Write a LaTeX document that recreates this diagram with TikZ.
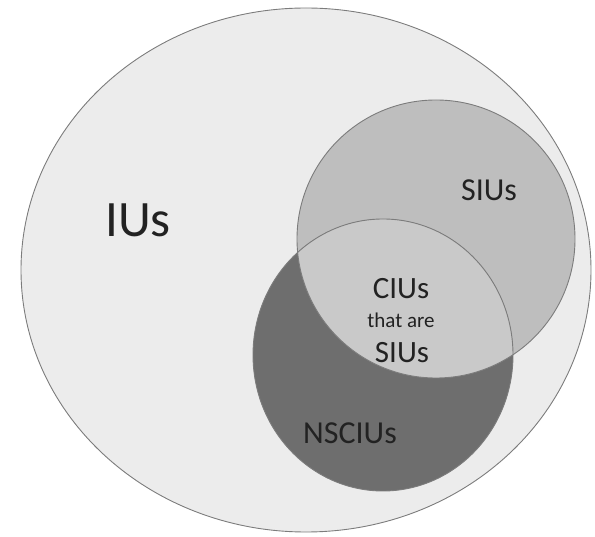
\documentclass[tikz,border=0pt]{standalone}
\usepackage{fontspec}
\setmainfont{Carlito}
\usepackage{xcolor}
\usepackage{tikz}
\usetikzlibrary{positioning}
\definecolor{setline}{HTML}{7C7C7C}
\definecolor{iufill}{HTML}{ECECEC}
\definecolor{siufill}{HTML}{BEBEBE}
\definecolor{ciufill}{HTML}{6E6E6E}
\definecolor{bothfill}{HTML}{C9C9C9}
\definecolor{labeltext}{HTML}{222222}
\tikzstyle{setedge} = [draw=setline, line width=0.9pt]
\tikzstyle{setlabel} = [text=labeltext, inner sep=0pt, anchor=center]

\begin{document}
\begin{tikzpicture}[x=1pt,y=-1pt]
    \useasboundingbox (0,0) rectangle (595,537);
    % Place sets
    \path[fill=iufill, setedge] (306,270) ellipse [x radius=285, y radius=262];
    \path[fill=siufill] (436,239) ellipse [x radius=139, y radius=139];
    \path[fill=ciufill] (383,355) ellipse [x radius=130, y radius=136];
    \begin{scope}
        \path[clip] (436,239) ellipse [x radius=139, y radius=139];
        \path[fill=bothfill] (383,355) ellipse [x radius=130, y radius=136];
    \end{scope}
    \path[setedge] (436,239) ellipse [x radius=139, y radius=139];
    \path[setedge] (383,355) ellipse [x radius=130, y radius=136];
    % Place labels
    \node[setlabel, font=\fontsize{51}{51}\selectfont] (ius) at (138,220) {IUs};
    \node[setlabel, font=\fontsize{32}{32}\selectfont] (sius) at (489,190) {SIUs};
    \node[setlabel, font=\fontsize{31}{31}\selectfont] (cius) at (401,289) {CIUs};
    \node[setlabel, font=\fontsize{21}{21}\selectfont, below=13pt of cius] (thatare) {that are};
    \node[setlabel, font=\fontsize{31}{31}\selectfont] (both) at (402,353) {SIUs};
    \node[setlabel, font=\fontsize{32}{32}\selectfont] (nscius) at (350,433) {NSCIUs};
\end{tikzpicture}
\end{document}
